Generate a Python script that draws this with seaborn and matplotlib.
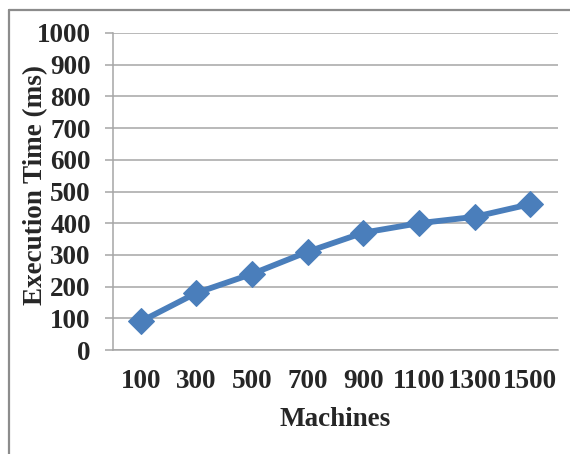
import matplotlib
matplotlib.use("Agg")
import matplotlib.pyplot as plt
import seaborn as sns
import pandas as pd
from matplotlib.lines import Line2D

# data
machines = ["100", "300", "500", "700", "900", "1100", "1300", "1500"]
exec_time = [90, 180, 240, 310, 370, 400, 420, 460]

sns.set_style("white")
plt.rcParams["font.family"] = ["Liberation Serif", "DejaVu Serif"]
plt.rcParams["font.weight"] = "bold"

df = pd.DataFrame({"Machines": machines, "Execution Time (ms)": exec_time})

fig = plt.figure(figsize=(5.70, 4.54), dpi=100)
ax = fig.add_axes([113 / 570, 1 - 350 / 454, 445 / 570, 317 / 454])

sns.lineplot(data=df, x="Machines", y="Execution Time (ms)", ax=ax,
             color="#4A7EBB", linewidth=4.2, marker="D", markersize=13,
             markeredgecolor="#4A7EBB", sort=False)

ax.set_xlim(-0.5, len(machines) - 0.5)
ax.set_ylim(0, 1000)
ax.set_yticks(range(0, 1001, 100))
ax.grid(axis="y", color="#A6A6A6", linewidth=1.1)
ax.set_axisbelow(True)

for side in ["top", "right"]:
    ax.spines[side].set_visible(False)
ax.spines["left"].set_color("#A6A6A6")
ax.spines["bottom"].set_color("#A6A6A6")
ax.spines["left"].set_linewidth(1.1)
ax.spines["bottom"].set_linewidth(1.1)

fs = 19.5
ax.tick_params(axis="y", length=6, width=1.1, color="#A6A6A6", pad=10,
               labelsize=fs, left=True)
ax.tick_params(axis="x", length=0, pad=14, labelsize=fs)
for lab in ax.get_xticklabels() + ax.get_yticklabels():
    lab.set_fontweight("bold")

ax.set_xlabel("Machines", fontsize=fs, fontweight="bold", labelpad=9)
ax.set_ylabel("Execution Time (ms)", fontsize=fs, fontweight="bold")
ax.yaxis.set_label_coords(-(113 - 48) / 445, 0.52)

# outer chart frame (only top and left edges visible)
fig.add_artist(Line2D([9 / 570, 1], [1 - 10 / 454] * 2, transform=fig.transFigure,
                      color="#8C8C8C", linewidth=1.6))
fig.add_artist(Line2D([9 / 570] * 2, [0, 1 - 10 / 454], transform=fig.transFigure,
                      color="#8C8C8C", linewidth=1.6))

fig.savefig("out.png", dpi=100)
